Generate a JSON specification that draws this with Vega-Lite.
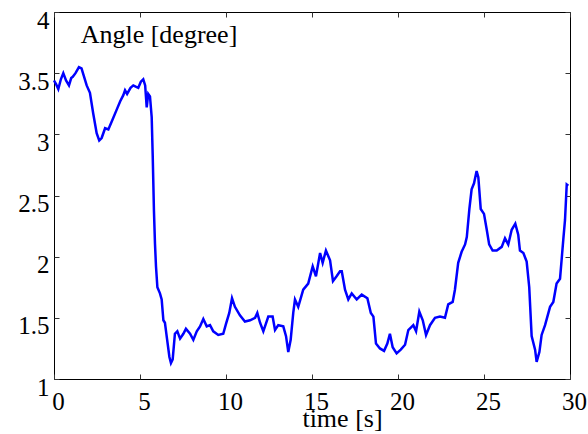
{
  "$schema": "https://vega.github.io/schema/vega-lite/v6.json",
  "width": 516,
  "height": 367,
  "autosize": {"type": "none"},
  "padding": {"left": 54, "top": 12, "right": 18, "bottom": 55},
  "background": "white",
  "config": {
    "view": {"stroke": "black", "strokeWidth": 1},
    "font": "Liberation Serif",
    "axis": {"grid": false, "domain": false, "labelFont": "Liberation Serif", "titleFont": "Liberation Serif", "labelColor": "black", "titleColor": "black", "tickColor": "#333", "tickWidth": 1}
  },
  "datasets": {
    "angle": [
    {"t": 0.0, "angle": 3.44}, {"t": 0.12, "angle": 3.41}, {"t": 0.25, "angle": 3.37}, {"t": 0.4, "angle": 3.45},
    {"t": 0.54, "angle": 3.50}, {"t": 0.7, "angle": 3.44}, {"t": 0.87, "angle": 3.40}, {"t": 1.0, "angle": 3.46},
    {"t": 1.09, "angle": 3.47}, {"t": 1.25, "angle": 3.50}, {"t": 1.45, "angle": 3.55}, {"t": 1.6, "angle": 3.54},
    {"t": 1.75, "angle": 3.47}, {"t": 1.9, "angle": 3.40}, {"t": 2.09, "angle": 3.34}, {"t": 2.28, "angle": 3.17},
    {"t": 2.48, "angle": 3.01}, {"t": 2.63, "angle": 2.95}, {"t": 2.77, "angle": 2.97}, {"t": 2.97, "angle": 3.05},
    {"t": 3.16, "angle": 3.04}, {"t": 3.4, "angle": 3.12}, {"t": 3.64, "angle": 3.20}, {"t": 3.85, "angle": 3.27},
    {"t": 4.03, "angle": 3.32}, {"t": 4.13, "angle": 3.36}, {"t": 4.25, "angle": 3.33}, {"t": 4.45, "angle": 3.38},
    {"t": 4.61, "angle": 3.40}, {"t": 4.75, "angle": 3.39}, {"t": 4.9, "angle": 3.38}, {"t": 5.05, "angle": 3.43},
    {"t": 5.19, "angle": 3.45}, {"t": 5.3, "angle": 3.40}, {"t": 5.39, "angle": 3.22}, {"t": 5.48, "angle": 3.33},
    {"t": 5.58, "angle": 3.31}, {"t": 5.68, "angle": 3.14}, {"t": 5.74, "angle": 2.82}, {"t": 5.81, "angle": 2.38},
    {"t": 5.87, "angle": 2.11}, {"t": 5.93, "angle": 1.92}, {"t": 6.01, "angle": 1.75}, {"t": 6.16, "angle": 1.70},
    {"t": 6.26, "angle": 1.65}, {"t": 6.36, "angle": 1.48}, {"t": 6.45, "angle": 1.46}, {"t": 6.55, "angle": 1.35},
    {"t": 6.71, "angle": 1.18}, {"t": 6.80, "angle": 1.13}, {"t": 6.90, "angle": 1.16}, {"t": 7.03, "angle": 1.37},
    {"t": 7.17, "angle": 1.39}, {"t": 7.33, "angle": 1.33}, {"t": 7.52, "angle": 1.37}, {"t": 7.67, "angle": 1.41},
    {"t": 7.91, "angle": 1.37}, {"t": 8.10, "angle": 1.32}, {"t": 8.30, "angle": 1.39}, {"t": 8.49, "angle": 1.43},
    {"t": 8.68, "angle": 1.49}, {"t": 8.88, "angle": 1.43}, {"t": 9.07, "angle": 1.44}, {"t": 9.26, "angle": 1.39},
    {"t": 9.55, "angle": 1.36}, {"t": 9.84, "angle": 1.37}, {"t": 10.0, "angle": 1.45}, {"t": 10.19, "angle": 1.54},
    {"t": 10.35, "angle": 1.66}, {"t": 10.52, "angle": 1.59}, {"t": 10.81, "angle": 1.52}, {"t": 11.1, "angle": 1.47},
    {"t": 11.4, "angle": 1.48}, {"t": 11.69, "angle": 1.50}, {"t": 11.82, "angle": 1.54}, {"t": 11.98, "angle": 1.46},
    {"t": 12.17, "angle": 1.39}, {"t": 12.46, "angle": 1.51}, {"t": 12.71, "angle": 1.51}, {"t": 12.85, "angle": 1.40},
    {"t": 13.04, "angle": 1.44}, {"t": 13.33, "angle": 1.43}, {"t": 13.49, "angle": 1.35}, {"t": 13.62, "angle": 1.22},
    {"t": 13.76, "angle": 1.32}, {"t": 13.91, "angle": 1.54}, {"t": 14.01, "angle": 1.65}, {"t": 14.2, "angle": 1.59},
    {"t": 14.49, "angle": 1.73}, {"t": 14.78, "angle": 1.78}, {"t": 15.04, "angle": 1.92}, {"t": 15.23, "angle": 1.84},
    {"t": 15.47, "angle": 2.03}, {"t": 15.62, "angle": 1.95}, {"t": 15.81, "angle": 2.05}, {"t": 16.05, "angle": 1.97},
    {"t": 16.22, "angle": 1.80}, {"t": 16.43, "angle": 1.84}, {"t": 16.63, "angle": 1.88}, {"t": 16.73, "angle": 1.88},
    {"t": 16.92, "angle": 1.73}, {"t": 17.11, "angle": 1.65}, {"t": 17.31, "angle": 1.70}, {"t": 17.6, "angle": 1.65},
    {"t": 17.89, "angle": 1.69}, {"t": 18.22, "angle": 1.66}, {"t": 18.42, "angle": 1.54}, {"t": 18.57, "angle": 1.51},
    {"t": 18.72, "angle": 1.29}, {"t": 18.95, "angle": 1.25}, {"t": 19.19, "angle": 1.23}, {"t": 19.38, "angle": 1.29},
    {"t": 19.53, "angle": 1.37}, {"t": 19.69, "angle": 1.26}, {"t": 19.92, "angle": 1.21}, {"t": 20.16, "angle": 1.24},
    {"t": 20.41, "angle": 1.28}, {"t": 20.6, "angle": 1.40}, {"t": 20.89, "angle": 1.44}, {"t": 21.05, "angle": 1.39},
    {"t": 21.24, "angle": 1.55}, {"t": 21.44, "angle": 1.48}, {"t": 21.63, "angle": 1.36}, {"t": 21.86, "angle": 1.44},
    {"t": 22.15, "angle": 1.50}, {"t": 22.44, "angle": 1.51}, {"t": 22.73, "angle": 1.50}, {"t": 22.92, "angle": 1.61},
    {"t": 23.18, "angle": 1.63}, {"t": 23.31, "angle": 1.73}, {"t": 23.5, "angle": 1.95}, {"t": 23.7, "angle": 2.04},
    {"t": 23.9, "angle": 2.10}, {"t": 24.0, "angle": 2.16}, {"t": 24.15, "angle": 2.39}, {"t": 24.28, "angle": 2.55},
    {"t": 24.42, "angle": 2.60}, {"t": 24.57, "angle": 2.70}, {"t": 24.67, "angle": 2.65}, {"t": 24.81, "angle": 2.39},
    {"t": 25.0, "angle": 2.35}, {"t": 25.16, "angle": 2.22}, {"t": 25.3, "angle": 2.10}, {"t": 25.5, "angle": 2.05},
    {"t": 25.74, "angle": 2.05}, {"t": 26.03, "angle": 2.08}, {"t": 26.22, "angle": 2.15}, {"t": 26.41, "angle": 2.10},
    {"t": 26.61, "angle": 2.22}, {"t": 26.82, "angle": 2.27}, {"t": 26.99, "angle": 2.18}, {"t": 27.09, "angle": 2.05},
    {"t": 27.29, "angle": 2.03}, {"t": 27.48, "angle": 1.96}, {"t": 27.63, "angle": 1.75}, {"t": 27.77, "angle": 1.35},
    {"t": 27.97, "angle": 1.24}, {"t": 28.06, "angle": 1.14}, {"t": 28.22, "angle": 1.22}, {"t": 28.35, "angle": 1.36},
    {"t": 28.55, "angle": 1.44}, {"t": 28.84, "angle": 1.59}, {"t": 29.03, "angle": 1.63}, {"t": 29.22, "angle": 1.78},
    {"t": 29.42, "angle": 1.82}, {"t": 29.51, "angle": 1.97}, {"t": 29.61, "angle": 2.14}, {"t": 29.71, "angle": 2.30},
    {"t": 29.81, "angle": 2.59}, {"t": 29.9, "angle": 2.58}
    ],
    "label": [{"label": "Angle [degree]"}]
  },
  "data": {"name": "angle"},
  "layer": [
    {
      "mark": {"type": "line", "color": "#0000ff", "strokeWidth": 2.5, "interpolate": "linear"},
      "encoding": {
        "x": {"field": "t", "type": "quantitative", "scale": {"domain": [0, 30], "nice": false, "zero": false},
          "axis": {"orient": "bottom", "values": [0, 5, 10, 15, 20, 25, 30], "tickSize": -5, "labelPadding": 15, "labelFontSize": 25, "labelOffset": 4, "labelBaseline": "top", "labelFlush": false, "labelOverlap": false,
            "title": "time [s]", "titleFontSize": 26, "titleFontWeight": "normal", "titleX": 288, "titleY": 47, "titleBaseline": "alphabetic", "titleAnchor": "start", "titleAlign": "center"}},
        "y": {"field": "angle", "type": "quantitative", "scale": {"domain": [1, 4], "nice": false, "zero": false},
          "axis": {"orient": "left", "values": [1, 1.5, 2, 2.5, 3, 3.5, 4], "format": "~g", "tickSize": -5, "labelPadding": 10, "labelFontSize": 25, "labelOffset": 8, "labelFlush": false, "labelOverlap": false, "title": null}}
      }
    },
    {
      "mark": {"type": "line", "strokeOpacity": 0},
      "encoding": {
        "x": {"field": "t", "type": "quantitative", "axis": {"orient": "top", "values": [0, 5, 10, 15, 20, 25, 30], "tickSize": -5, "labels": false, "title": null}},
        "y": {"field": "angle", "type": "quantitative", "axis": {"orient": "right", "values": [1, 1.5, 2, 2.5, 3, 3.5, 4], "tickSize": -5, "labels": false, "title": null}}
      }
    },
    {
      "data": {"name": "label"},
      "mark": {"type": "text", "align": "left", "baseline": "alphabetic", "font": "Liberation Serif", "fontSize": 26, "fontWeight": "normal", "color": "black"},
      "encoding": {
        "text": {"field": "label", "type": "nominal"},
        "x": {"datum": 1.55, "type": "quantitative", "axis": null},
        "y": {"datum": 3.749, "type": "quantitative", "axis": null}
      }
    }
  ],
  "resolve": {"axis": {"x": "independent", "y": "independent"}}
}
